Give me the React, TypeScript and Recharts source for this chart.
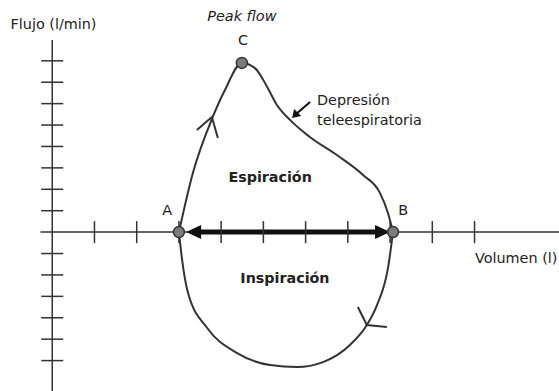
import React from "react"
import { ComposedChart, Line, Scatter, XAxis, YAxis, ReferenceLine } from "recharts"

// flow-volume loop (volume in l, flow in units of one tick)
const expiration = [
  { x: 3.0, y: 0 },
  { x: 3.33, y: 2.76 },
  { x: 3.79, y: 5.33 },
  { x: 4.09, y: 6.64 },
  { x: 4.49, y: 7.9 },
  { x: 4.8, y: 7.66 },
  { x: 5.09, y: 6.78 },
  { x: 5.32, y: 5.94 },
  { x: 5.63, y: 5.24 },
  { x: 6.1, y: 4.44 },
  { x: 6.74, y: 3.6 },
  { x: 7.36, y: 2.67 },
  { x: 7.76, y: 1.83 },
  { x: 7.95, y: 0.89 },
  { x: 8.07, y: 0 },
]

const inspiration = [
  { x: 3.0, y: 0 },
  { x: 3.07, y: -1.21 },
  { x: 3.21, y: -2.8 },
  { x: 3.67, y: -4.48 },
  { x: 4.38, y: -5.65 },
  { x: 5.16, y: -6.21 },
  { x: 5.8, y: -6.3 },
  { x: 6.41, y: -6.07 },
  { x: 7.05, y: -5.27 },
  { x: 7.45, y: -4.34 },
  { x: 7.69, y: -3.41 },
  { x: 7.95, y: -1.68 },
  { x: 8.07, y: 0 },
]

const keyPoints = [
  { x: 3.0, y: 0 },
  { x: 8.07, y: 0 },
  { x: 4.49, y: 7.9 },
]

const xTicks = [1, 2, 3, 4, 5, 6, 7, 8, 9, 10].map((x) => ({ x, y: 0 }))
const yTicks = [8, 7, 6, 5, 4, 3, 2, 1, -1, -2, -3, -4, -5, -6].map((y) => ({ x: 0, y }))

// direction chevrons drawn on the loop
const chevrons = [
  { x: 3.78, y: 5.38, arms: [[-15, 13], [6, 21]] },
  { x: 7.45, y: -4.34, arms: [[-9, -18], [20, 2]] },
]

const arrowHeads = [
  { x: 3.17, y: 0, dir: -1 },
  { x: 8.0, y: 0, dir: 1 },
]

const pointer = [{ x: 5.68, y: 5.33 }]

const notes = [
  { x: 4.49, y: 10.09, text: "Peak flow", anchor: "middle", italic: true },
  { x: 4.52, y: 8.97, text: "C", anchor: "middle" },
  { x: 2.72, y: 1.03, text: "A", anchor: "middle" },
  { x: 8.31, y: 1.03, text: "B", anchor: "middle" },
  { x: 0.03, y: 9.72, text: "Flujo (l/min)", anchor: "middle" },
  { x: 6.27, y: 6.17, text: "Depresión", anchor: "start" },
  { x: 6.27, y: 5.24, text: "teleespiratoria", anchor: "start" },
  { x: 5.16, y: 2.57, text: "Espiración", anchor: "middle", bold: true },
  { x: 5.51, y: -2.14, text: "Inspiración", anchor: "middle", bold: true },
  { x: 10.01, y: -1.21, text: "Volumen (l)", anchor: "start" },
]

const INK = "#333"

const XTick = (p: any) => <line x1={p.cx} x2={p.cx} y1={p.cy - 11} y2={p.cy + 11} stroke={INK} strokeWidth={1.5} />
const YTick = (p: any) => <line x1={p.cx - 11} x2={p.cx + 11} y1={p.cy} y2={p.cy} stroke={INK} strokeWidth={1.5} />

const Chevron = (p: any) => {
  const [a, b] = p.payload.arms
  return (
    <path
      d={`M${p.cx + a[0]},${p.cy + a[1]} L${p.cx},${p.cy} L${p.cx + b[0]},${p.cy + b[1]}`}
      fill="none"
      stroke={INK}
      strokeWidth={2}
    />
  )
}

const Head = (p: any) => {
  const d = p.payload.dir
  return <path d={`M${p.cx},${p.cy} L${p.cx - d * 15},${p.cy - 7} L${p.cx - d * 15},${p.cy + 7} Z`} fill="#111" />
}

const Pointer = (p: any) => (
  <g>
    <line x1={p.cx + 4} y1={p.cy - 4} x2={p.cx + 18} y2={p.cy - 16} stroke="#111" strokeWidth={2.2} />
    <path d={`M${p.cx},${p.cy} L${p.cx + 2},${p.cy - 9} L${p.cx + 9},${p.cy - 2} Z`} fill="#111" />
  </g>
)

const Dot = (p: any) => <circle cx={p.cx} cy={p.cy} r={5.5} fill="#7b7b7b" stroke={INK} strokeWidth={1.5} />

const Note = (p: any) => {
  const n = p.payload
  return (
    <text
      x={p.cx}
      y={p.cy}
      dy="0.36em"
      textAnchor={n.anchor}
      fontSize={n.bold ? 14.3 : 14.4}
      fontWeight={n.bold ? "bold" : "normal"}
      fontStyle={n.italic ? "italic" : "normal"}
      fill="#222"
    >
      {n.text}
    </text>
  )
}

export default function App() {
  return (
    <div style={{ position: "absolute", left: 0, top: 0, fontFamily: "'DejaVu Sans', Verdana, sans-serif" }}>
      <ComposedChart width={559} height={391} margin={{ top: 0, right: 0, bottom: 0, left: 0 }}>
        <XAxis type="number" dataKey="x" domain={[-1.237, 12]} hide />
        <YAxis type="number" dataKey="y" domain={[-7.42, 10.84]} hide />
        <ReferenceLine segment={[{ x: -0.28, y: 0 }, { x: 12, y: 0 }]} stroke={INK} strokeWidth={1.5} />
        <ReferenceLine segment={[{ x: 0, y: 8.97 }, { x: 0, y: -7.42 }]} stroke={INK} strokeWidth={1.5} />
        <Scatter data={xTicks} dataKey="y" shape={XTick} isAnimationActive={false} />
        <Scatter data={yTicks} dataKey="y" shape={YTick} isAnimationActive={false} />
        <ReferenceLine segment={[{ x: 3.45, y: 0 }, { x: 7.75, y: 0 }]} stroke="#111" strokeWidth={5} />
        <Scatter data={arrowHeads} dataKey="y" shape={Head} isAnimationActive={false} />
        <Line data={expiration} dataKey="y" type="monotone" stroke={INK} strokeWidth={2} dot={false} activeDot={false} isAnimationActive={false} />
        <Line data={inspiration} dataKey="y" type="monotone" stroke={INK} strokeWidth={2} dot={false} activeDot={false} isAnimationActive={false} />
        <Scatter data={chevrons} dataKey="y" shape={Chevron} isAnimationActive={false} />
        <Scatter data={pointer} dataKey="y" shape={Pointer} isAnimationActive={false} />
        <Scatter data={keyPoints} dataKey="y" shape={Dot} isAnimationActive={false} />
        <Scatter data={notes} dataKey="y" shape={Note} isAnimationActive={false} />
      </ComposedChart>
    </div>
  )
}
